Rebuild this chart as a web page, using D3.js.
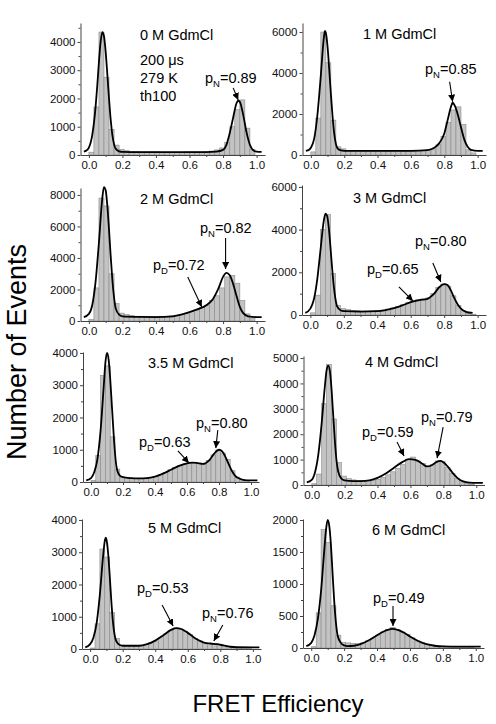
<!DOCTYPE html>
<html><head><meta charset="utf-8">
<script src="https://cdn.jsdelivr.net/npm/d3@7"></script>
<style>
body{margin:0;background:#fff;}
text{font-family:"Liberation Sans",Arial,sans-serif;}
</style></head><body>
<svg id="c" width="496" height="724"></svg>
<script>
// ---------------- DATA ----------------
const binWidth = 0.03;
const xDomain = [-0.05, 1.05];
const xTickValues = [0, 0.2, 0.4, 0.6, 0.8, 1.0];

const panelTitles = ["0 M GdmCl", "1 M GdmCl", "2 M GdmCl", "3 M GdmCl",
                     "3.5 M GdmCl", "4 M GdmCl", "5 M GdmCl", "6 M GdmCl"];
const conditionLines = ["200 \u03BCs", "279 K", "th100"];

const yMax = [4670, 6440, 8440, 6090, 4030, 5080, 4030, 2016];
const yTickValues = [
  [0, 1000, 2000, 3000, 4000],
  [0, 2000, 4000, 6000],
  [0, 2000, 4000, 6000, 8000],
  [0, 2000, 4000, 6000],
  [0, 1000, 2000, 3000, 4000],
  [0, 1000, 2000, 3000, 4000, 5000],
  [0, 1000, 2000, 3000, 4000],
  [0, 500, 1000, 1500, 2000]
];

const bars0M = [100,1700,4350,2750,900,350,200,150,130,120,110,110,110,110,100,100,100,100,100,110,110,110,110,120,140,180,250,450,1000,1600,1950,950,200];
const bars1M = [150,1800,6000,4500,1700,400,300,220,200,200,200,200,200,200,200,200,200,200,200,200,200,220,230,250,300,500,900,1600,2200,2350,1500,250,100];
const bars2M = [100,2100,7800,7300,3000,1100,500,400,350,300,300,300,280,280,300,300,320,350,400,500,600,700,850,1000,1300,1600,2100,2800,2900,2400,1300,450,150];
const bars3M = [100,930,4000,4700,1950,450,300,250,220,200,180,180,190,200,230,280,330,400,480,580,680,720,750,800,1000,1300,1450,1350,900,450,200,80,30];
const bars35M = [50,820,3300,3600,1400,400,150,140,120,110,110,120,140,175,230,300,380,450,510,560,590,610,580,560,670,840,990,900,700,350,150,70,40];
const bars4M = [50,430,3200,4750,2600,880,350,250,200,180,170,170,180,220,300,400,520,660,800,1000,1100,950,850,750,800,950,920,700,450,250,120,60,40];
const bars5M = [30,780,3100,2850,1130,330,120,100,100,100,100,140,190,250,350,470,580,650,620,540,450,330,250,190,170,160,140,100,70,55,50,50,50];
const bars6M = [20,550,1850,1650,660,200,90,80,70,70,80,110,150,200,250,290,320,290,250,210,160,110,80,60,45,35,30,25,25,20,20,20,20];

const fit0M = [[-0.03,120],[-0.01,180],[0.0,260],[0.02,700],[0.04,1700],[0.05,2450],[0.06,3300],[0.07,4000],[0.08,4350],[0.09,4200],[0.10,3650],[0.11,2850],[0.12,2000],[0.13,1250],[0.14,700],[0.15,380],[0.16,220],[0.18,130],[0.2,110],[0.3,100],[0.5,100],[0.7,105],[0.76,120],[0.80,180],[0.82,360],[0.84,780],[0.86,1320],[0.88,1830],[0.89,1920],[0.90,1880],[0.92,1420],[0.94,800],[0.96,360],[0.98,170],[1.0,120],[1.03,110]];
const fit1M = [[-0.03,200],[-0.01,260],[0.0,350],[0.02,800],[0.04,2000],[0.05,2900],[0.06,3900],[0.07,5000],[0.08,5850],[0.085,6050],[0.09,5950],[0.10,5300],[0.11,4200],[0.12,3000],[0.13,1900],[0.14,1050],[0.15,550],[0.16,320],[0.18,220],[0.2,200],[0.4,200],[0.6,200],[0.7,240],[0.74,350],[0.77,580],[0.80,1050],[0.82,1700],[0.84,2350],[0.85,2550],[0.86,2450],[0.88,2000],[0.90,1350],[0.92,750],[0.94,400],[0.96,250],[1.0,200],[1.03,200]];
const fit2M = [[-0.03,250],[0.0,450],[0.02,1000],[0.04,2500],[0.06,5000],[0.08,7800],[0.09,8500],[0.10,8300],[0.11,7300],[0.12,5800],[0.13,4100],[0.14,2600],[0.15,1500],[0.16,800],[0.18,400],[0.2,300],[0.3,260],[0.4,250],[0.5,300],[0.55,400],[0.6,560],[0.65,750],[0.7,1000],[0.74,1400],[0.77,2000],[0.80,2800],[0.82,3050],[0.84,2900],[0.86,2350],[0.88,1600],[0.90,900],[0.92,500],[0.95,300],[1.0,250],[1.03,250]];
const fit3M = [[-0.03,100],[0.0,300],[0.02,700],[0.04,1600],[0.06,3000],[0.08,4400],[0.09,4750],[0.10,4650],[0.11,4100],[0.12,3200],[0.13,2200],[0.14,1350],[0.15,750],[0.16,400],[0.18,220],[0.2,180],[0.3,160],[0.4,180],[0.45,230],[0.5,320],[0.55,450],[0.6,600],[0.65,700],[0.7,760],[0.74,1000],[0.77,1300],[0.80,1450],[0.82,1400],[0.84,1150],[0.86,800],[0.88,500],[0.90,300],[0.93,150],[0.97,100]];
const fit35M = [[-0.03,50],[0.0,120],[0.02,300],[0.04,700],[0.06,1600],[0.08,3000],[0.09,3700],[0.10,4000],[0.11,3800],[0.12,3200],[0.13,2400],[0.14,1600],[0.15,900],[0.16,450],[0.18,200],[0.2,150],[0.25,120],[0.3,110],[0.35,120],[0.4,170],[0.45,260],[0.5,380],[0.55,500],[0.6,580],[0.63,600],[0.66,590],[0.7,560],[0.74,680],[0.77,880],[0.80,1000],[0.82,950],[0.84,780],[0.86,560],[0.88,350],[0.90,200],[0.93,100],[0.96,60],[1.0,50],[1.04,50]];
const fit4M = [[-0.03,100],[0.0,200],[0.02,500],[0.04,1200],[0.06,2400],[0.08,3900],[0.09,4500],[0.10,4700],[0.11,4500],[0.12,3800],[0.13,2800],[0.14,1800],[0.15,1000],[0.16,550],[0.18,250],[0.2,180],[0.25,150],[0.3,150],[0.35,180],[0.4,280],[0.45,450],[0.5,680],[0.55,900],[0.59,1020],[0.63,990],[0.67,850],[0.70,730],[0.73,780],[0.76,910],[0.78,950],[0.80,900],[0.83,700],[0.86,450],[0.89,250],[0.92,140],[0.96,90],[1.0,80],[1.04,80]];
const fit5M = [[-0.03,50],[0.0,150],[0.02,350],[0.04,800],[0.06,1700],[0.08,2900],[0.09,3350],[0.095,3450],[0.10,3400],[0.11,3000],[0.12,2300],[0.13,1500],[0.14,850],[0.15,450],[0.16,250],[0.18,130],[0.2,100],[0.3,100],[0.35,150],[0.4,260],[0.45,430],[0.5,600],[0.53,650],[0.56,620],[0.6,500],[0.65,320],[0.7,200],[0.74,170],[0.78,150],[0.82,110],[0.86,70],[0.9,55],[1.0,50],[1.04,50]];
const fit6M = [[-0.03,30],[0.0,80],[0.02,200],[0.04,450],[0.06,900],[0.08,1550],[0.09,1850],[0.10,2000],[0.11,1900],[0.12,1600],[0.13,1150],[0.14,720],[0.15,400],[0.16,200],[0.18,80],[0.2,40],[0.22,30],[0.26,35],[0.3,60],[0.35,120],[0.4,200],[0.45,270],[0.49,300],[0.53,280],[0.57,230],[0.6,180],[0.65,110],[0.7,60],[0.75,35],[0.8,25],[0.9,20],[1.0,20],[1.03,20]];

// peak annotations: [subscript, value, arrow tip x (FRET), arrow tip y (events)]
const peaks0M = [["N","0.89",0.89,1950]];
const peaks1M = [["N","0.85",0.85,2600]];
const peaks2M = [["N","0.82",0.815,3300],["D","0.72",0.673,890]];
const peaks3M = [["N","0.80",0.78,1550],["D","0.65",0.613,660]];
const peaks35M = [["N","0.80",0.78,1050],["D","0.63",0.612,590]];
const peaks4M = [["N","0.79",0.762,1060],["D","0.59",0.561,1140]];
const peaks5M = [["D","0.53",0.51,710],["N","0.76",0.76,250]];
const peaks6M = [["D","0.49",0.497,344]];

const bars = [bars0M, bars1M, bars2M, bars3M, bars35M, bars4M, bars5M, bars6M];
const fits = [fit0M, fit1M, fit2M, fit3M, fit35M, fit4M, fit5M, fit6M];
const peaks = [peaks0M, peaks1M, peaks2M, peaks3M, peaks35M, peaks4M, peaks5M, peaks6M];

// ---------------- LAYOUT ----------------
const layout = [
  {left:80.5, right:265, top:23,  bottom:155, tx:140, ty:40},
  {left:302.5,right:486, top:23,  bottom:155, tx:363, ty:39},
  {left:80.5, right:265, top:188, bottom:321, tx:140, ty:204},
  {left:302,  right:486, top:185, bottom:315, tx:353, ty:203},
  {left:83,   right:259, top:352, bottom:482, tx:148, ty:368},
  {left:303.5,right:484.5,top:356,bottom:485, tx:365, ty:367},
  {left:82,   right:261, top:519, bottom:649, tx:148, ty:533},
  {left:303,  right:484, top:519, bottom:648, tx:372, ty:535}
];
// label position (text start, baseline) and arrow tail offset from tip, per annotation
const annLayout = [
  [{x:205,y:83,dx:-5,dy:-12}],
  [{x:425,y:74,dx:-3,dy:-20}],
  [{x:200,y:233,dx:0,dy:-31},{x:153,y:270,dx:-14,dy:-30}],
  [{x:415,y:246,dx:-8,dy:-19},{x:367,y:274,dx:-14,dy:-14}],
  [{x:196,y:428,dx:2,dy:-18},{x:139,y:447,dx:-11,dy:-12}],
  [{x:421,y:422,dx:6,dy:-31},{x:362,y:437,dx:-7,dy:-14}],
  [{x:137,y:593,dx:-11,dy:-21},{x:202,y:618,dx:9,dy:-16}],
  [{x:373,y:603,dx:0,dy:-20}]
];

const svg = d3.select("#c");
svg.append("rect").attr("width",496).attr("height",724).attr("fill","#fff");
svg.append("defs").append("marker")
  .attr("id","ah").attr("viewBox","0 0 10 10").attr("refX",10).attr("refY",5)
  .attr("markerWidth",7).attr("markerHeight",7).attr("markerUnits","userSpaceOnUse")
  .attr("orient","auto")
  .append("path").attr("d","M0,0 L10,5 L0,10 Z").attr("fill","#000");

const fmtX = d3.format(".1f");

bars.forEach((vals, k) => {
  const L = layout[k];
  const x = d3.scaleLinear().domain(xDomain).range([L.left, L.right]);
  const y = d3.scaleLinear().domain([0, yMax[k]]).range([L.bottom, L.top]);
  const g = svg.append("g");

  g.selectAll("rect.bar").data(vals).join("rect").attr("class","bar")
    .attr("x", (d,i) => x(i*binWidth))
    .attr("width", (d,i) => x((i+1)*binWidth) - x(i*binWidth))
    .attr("y", d => y(d))
    .attr("height", d => y(0) - y(d))
    .attr("fill", "#c3c3c3").attr("stroke", "#8a8a8a").attr("stroke-width", 0.6);

  g.append("path").datum(fits[k])
    .attr("d", d3.line().x(d => x(d[0])).y(d => y(d[1])).curve(d3.curveMonotoneX))
    .attr("fill","none").attr("stroke","#000").attr("stroke-width",1.8);

  // minor ticks
  const yt = yTickValues[k];
  const step = yt[1] - yt[0];
  const yMinor = d3.range(step/2, yMax[k], step);
  const xMinor = [0.1, 0.3, 0.5, 0.7, 0.9];
  g.append("g").attr("transform",`translate(${L.left},0)`)
    .call(d3.axisLeft(y).tickValues(yMinor).tickSize(2).tickFormat(""))
    .call(a => a.select(".domain").remove());
  g.append("g").attr("transform",`translate(0,${L.bottom})`)
    .call(d3.axisBottom(x).tickValues(xMinor).tickSize(2).tickFormat(""))
    .call(a => a.select(".domain").remove());

  const ya = g.append("g").attr("transform",`translate(${L.left},0)`)
    .call(d3.axisLeft(y).tickValues(yt).tickSize(3).tickSizeOuter(0).tickPadding(2).tickFormat(d3.format("d")));
  const xa = g.append("g").attr("transform",`translate(0,${L.bottom})`)
    .call(d3.axisBottom(x).tickValues(xTickValues).tickSize(3).tickSizeOuter(0).tickPadding(3).tickFormat(fmtX));
  [ya, xa].forEach(a => {
    a.selectAll("text").attr("font-size", 11.5).attr("font-family","Liberation Sans, Arial, sans-serif").attr("fill","#111");
    a.selectAll("line,path").attr("stroke","#444");
  });
  g.selectAll(".tick line").attr("stroke","#444");

  // title
  g.append("text").attr("x", L.tx).attr("y", L.ty).attr("font-size", 14.5).text(panelTitles[k]);
  if (k === 0) {
    conditionLines.forEach((s, i) => {
      g.append("text").attr("x", L.tx).attr("y", L.ty + 25 + i*18).attr("font-size", 14.5).text(s);
    });
  }

  // annotations
  peaks[k].forEach((p, j) => {
    const A = annLayout[k][j];
    const t = g.append("text").attr("x", A.x).attr("y", A.y).attr("font-size", 14.5);
    t.append("tspan").text("p");
    t.append("tspan").attr("font-size", 9.5).attr("dy", 4).text(p[0]);
    t.append("tspan").attr("dy", -4).text("=" + p[1]);
    const tx = x(p[2]), ty = y(p[3]);
    g.append("line").attr("x1", tx + A.dx).attr("y1", ty + A.dy).attr("x2", tx).attr("y2", ty)
      .attr("stroke","#000").attr("stroke-width",1.1).attr("marker-end","url(#ah)");
  });
});

svg.append("text").attr("transform","translate(26,352) rotate(-90)")
  .attr("text-anchor","middle").attr("font-size",27).text("Number of Events");
svg.append("text").attr("x",278).attr("y",712)
  .attr("text-anchor","middle").attr("font-size",24).text("FRET Efficiency");
</script>
</body></html>
